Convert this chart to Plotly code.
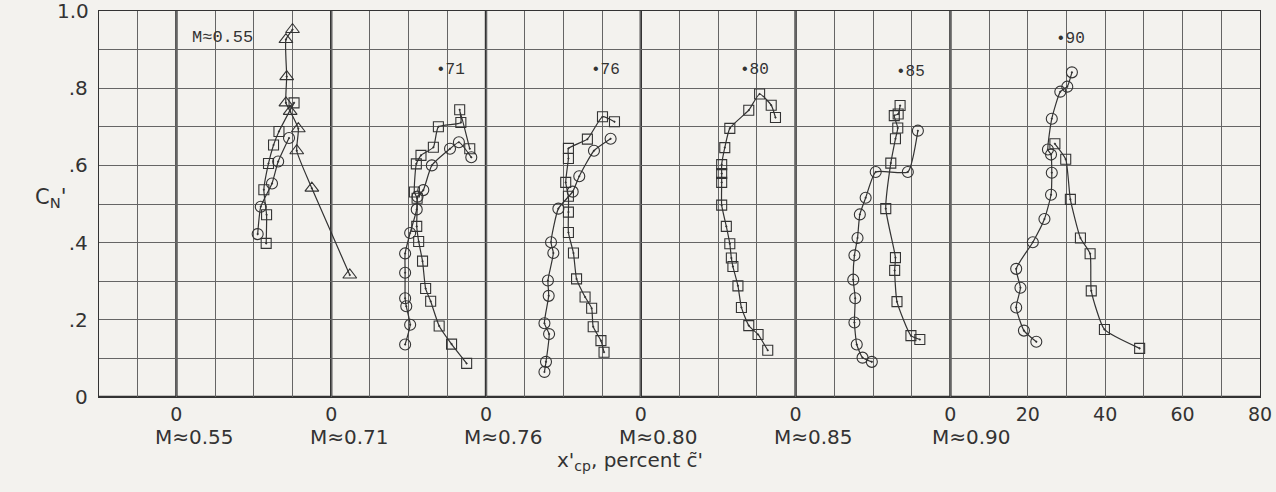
import plotly.graph_objects as go

# Mach numbers of the six panels and the x'cp origin of each panel on the shared axis
mach_labels = ["0.55", "0.71", "0.76", "0.80", "0.85", "0.90"]
panel_offsets = [0, 40, 80, 120, 160, 200]

# M = 0.55
tri55_x = [44.8, 35.0, 31.1, 31.5, 29.4, 28.3, 28.5, 28.3, 30.0]
tri55_c = [0.316, 0.541, 0.638, 0.695, 0.740, 0.762, 0.830, 0.926, 0.952]
sq55_x = [23.2, 23.3, 22.6, 23.8, 25.1, 26.5, 30.4]
sq55_c = [0.398, 0.472, 0.537, 0.605, 0.653, 0.688, 0.762]
ci55_x = [21.0, 21.8, 24.7, 26.3, 29.1]
ci55_c = [0.422, 0.493, 0.553, 0.610, 0.671]

# M = 0.71
sq71_x = [35.0, 31.1, 27.9, 25.7, 24.4, 23.6, 22.6, 22.1, 22.2, 21.5, 22.0, 23.2, 26.4, 27.7, 33.5, 33.2, 35.8]
sq71_c = [0.087, 0.137, 0.184, 0.248, 0.281, 0.352, 0.403, 0.442, 0.515, 0.531, 0.604, 0.626, 0.647, 0.700, 0.711, 0.744, 0.643]
ci71_x = [19.1, 20.4, 19.4, 19.1, 19.1, 19.1, 20.4, 22.1, 22.3, 23.8, 26.0, 30.7, 33.0, 36.2]
ci71_c = [0.136, 0.187, 0.235, 0.256, 0.322, 0.372, 0.425, 0.486, 0.519, 0.536, 0.600, 0.643, 0.660, 0.621]

# M = 0.76
sq76_x = [30.5, 29.7, 27.7, 27.3, 25.6, 23.4, 22.6, 21.3, 21.3, 21.3, 20.6, 21.3, 21.3, 26.2, 30.1, 33.2]
sq76_c = [0.116, 0.146, 0.182, 0.230, 0.259, 0.306, 0.373, 0.426, 0.479, 0.520, 0.556, 0.618, 0.644, 0.668, 0.726, 0.713]
ci76_x = [15.1, 15.5, 16.3, 15.1, 16.2, 16.0, 17.4, 16.8, 18.7, 22.4, 24.1, 27.9, 32.2]
ci76_c = [0.065, 0.091, 0.163, 0.191, 0.262, 0.302, 0.373, 0.401, 0.488, 0.532, 0.572, 0.638, 0.669]

# M = 0.80
sq80_x = [32.8, 30.3, 27.9, 26.0, 25.1, 23.8, 23.4, 23.0, 22.1, 20.9, 20.9, 20.9, 20.9, 21.7, 23.0, 27.9, 30.7, 33.7, 34.8]
sq80_c = [0.121, 0.162, 0.185, 0.232, 0.288, 0.338, 0.360, 0.397, 0.442, 0.497, 0.556, 0.579, 0.602, 0.646, 0.696, 0.743, 0.785, 0.756, 0.724]

# M = 0.85
sq85_x = [32.1, 29.8, 26.2, 25.6, 25.8, 23.3, 24.6, 25.8, 26.4, 25.5, 26.5, 27.0]
sq85_c = [0.149, 0.159, 0.247, 0.328, 0.361, 0.488, 0.606, 0.669, 0.697, 0.729, 0.733, 0.755]
ci85_x = [19.7, 17.3, 15.8, 15.2, 15.4, 14.9, 15.2, 16.0, 16.6, 18.1, 20.7, 29.0, 31.6]
ci85_c = [0.091, 0.102, 0.136, 0.193, 0.256, 0.304, 0.367, 0.412, 0.473, 0.516, 0.583, 0.583, 0.690]

# M = 0.90
ci90_x = [22.2, 19.0, 17.0, 18.1, 17.0, 21.3, 24.3, 26.0, 26.2, 26.0, 25.2, 26.2, 28.4, 30.2, 31.4]
ci90_c = [0.143, 0.172, 0.232, 0.283, 0.332, 0.401, 0.461, 0.524, 0.581, 0.628, 0.641, 0.721, 0.791, 0.804, 0.841]
sq90_x = [27.0, 29.8, 31.0, 33.6, 36.1, 36.4, 39.8, 48.9]
sq90_c = [0.656, 0.616, 0.512, 0.412, 0.371, 0.275, 0.175, 0.126]

# C_N' tick values and their printed labels
cn_ticks = [0, 0.2, 0.4, 0.6, 0.8]
cn_tick_text = ["0", ".2", ".4", ".6", ".8"]

INK = "#333333"
GRID = "#656565"
PAPER = "#f3f2ee"

fig = go.Figure()


def add_curve(xs, cs, offset, symbol, size):
    fig.add_trace(go.Scatter(
        x=[v + offset for v in xs], y=cs,
        mode="lines+markers",
        line=dict(color=INK, width=1.2, shape="spline", smoothing=0.5),
        marker=dict(symbol=symbol, size=size, color=INK, line=dict(width=1.1, color=INK)),
        showlegend=False, hoverinfo="skip",
    ))


add_curve(tri55_x, tri55_c, panel_offsets[0], "triangle-up-open-dot", 12)
add_curve(sq55_x, sq55_c, panel_offsets[0], "square-open-dot", 10)
add_curve(ci55_x, ci55_c, panel_offsets[0], "circle-open-dot", 11)
add_curve(sq71_x, sq71_c, panel_offsets[1], "square-open-dot", 10)
add_curve(ci71_x, ci71_c, panel_offsets[1], "circle-open-dot", 11)
add_curve(sq76_x, sq76_c, panel_offsets[2], "square-open-dot", 10)
add_curve(ci76_x, ci76_c, panel_offsets[2], "circle-open-dot", 11)
add_curve(sq80_x, sq80_c, panel_offsets[3], "square-open-dot", 10)
add_curve(sq85_x, sq85_c, panel_offsets[4], "square-open-dot", 10)
add_curve(ci85_x, ci85_c, panel_offsets[4], "circle-open-dot", 11)
add_curve(sq90_x, sq90_c, panel_offsets[5], "square-open-dot", 10)
add_curve(ci90_x, ci90_c, panel_offsets[5], "circle-open-dot", 11)

# heavy rules at the origin of each panel and along the bottom
shapes = []
for off in panel_offsets:
    shapes.append(dict(type="line", xref="x", yref="paper", x0=off, x1=off, y0=0, y1=1,
                       line=dict(color=INK, width=2.4), layer="below"))
shapes.append(dict(type="line", xref="paper", yref="y", x0=0, x1=1, y0=0, y1=0,
                   line=dict(color=INK, width=2.4), layer="below"))

LETTER = "DejaVu Sans"
TYPE = "Liberation Mono"
annotations = []
for off, m in zip(panel_offsets, mach_labels):
    annotations.append(dict(x=off + (5.4 if m == "0.90" else 4.6), y=-0.104, xref="x", yref="paper",
                            text="M\u2248" + m, showarrow=False, yanchor="middle",
                            font=dict(family=LETTER, size=20, color=INK)))

# Mach number notes inside the panels
inner_labels = ["M\u22480.55", "\u2022" + "71", "\u2022" + "76", "\u2022" + "80", "\u2022" + "85", "\u2022" + "90"]
inner_x = [11.9, 70.8, 111.0, 149.3, 189.6, 231.0]
inner_y = [0.932, 0.848, 0.848, 0.848, 0.843, 0.928]
for t, xx, yy in zip(inner_labels, inner_x, inner_y):
    annotations.append(dict(x=xx, y=yy, xref="x", yref="y", text=t, showarrow=False,
                            font=dict(family=TYPE, size=17 if t.startswith("M") else 16, color=INK)))

# top C_N' label sits against the page edge
annotations.append(dict(x=-0.007, y=1.0, xref="paper", yref="y", text="1.0", showarrow=False,
                        xanchor="right", yanchor="middle",
                        font=dict(family=LETTER, size=20, color=INK)))

annotations.append(dict(x=0.457, y=-0.167, xref="paper", yref="paper",
                        text="x'<sub>cp</sub>, percent c\u0303'", showarrow=False, yanchor="middle",
                        font=dict(family=LETTER, size=20, color=INK)))
annotations.append(dict(x=-0.057, y=0.515, xref="paper", yref="paper",
                        text="C<sub>N</sub>'", showarrow=False, yanchor="middle",
                        font=dict(family=LETTER, size=21, color=INK)))

fig.update_layout(
    width=1276, height=492,
    margin=dict(l=99, r=16, t=11, b=95),
    paper_bgcolor=PAPER, plot_bgcolor=PAPER,
    shapes=shapes, annotations=annotations,
    xaxis=dict(
        range=[-20, 280], automargin=False,
        tickvals=panel_offsets + [220, 240, 260, 280],
        ticktext=["0"] * 6 + ["20", "40", "60", "80"],
        ticks="", ticklabelstandoff=0,
        tickfont=dict(family=LETTER, size=19, color=INK),
        showgrid=True, gridcolor=GRID, gridwidth=1.1,
        minor=dict(dtick=10, tick0=0, showgrid=True, gridcolor=GRID, gridwidth=1.1),
        zeroline=False, showline=True, mirror=True, linecolor=INK, linewidth=1.4,
    ),
    yaxis=dict(
        range=[0, 1.0], automargin=False,
        tickvals=cn_ticks,
        ticktext=cn_tick_text,
        ticks="", ticklabelstandoff=6,
        tickfont=dict(family=LETTER, size=20, color=INK),
        showgrid=True, gridcolor=GRID, gridwidth=1.1,
        minor=dict(dtick=0.1, tick0=0, showgrid=True, gridcolor=GRID, gridwidth=1.1),
        zeroline=False, showline=True, mirror=True, linecolor=INK, linewidth=1.4,
    ),
)

fig.write_html("out.html")
